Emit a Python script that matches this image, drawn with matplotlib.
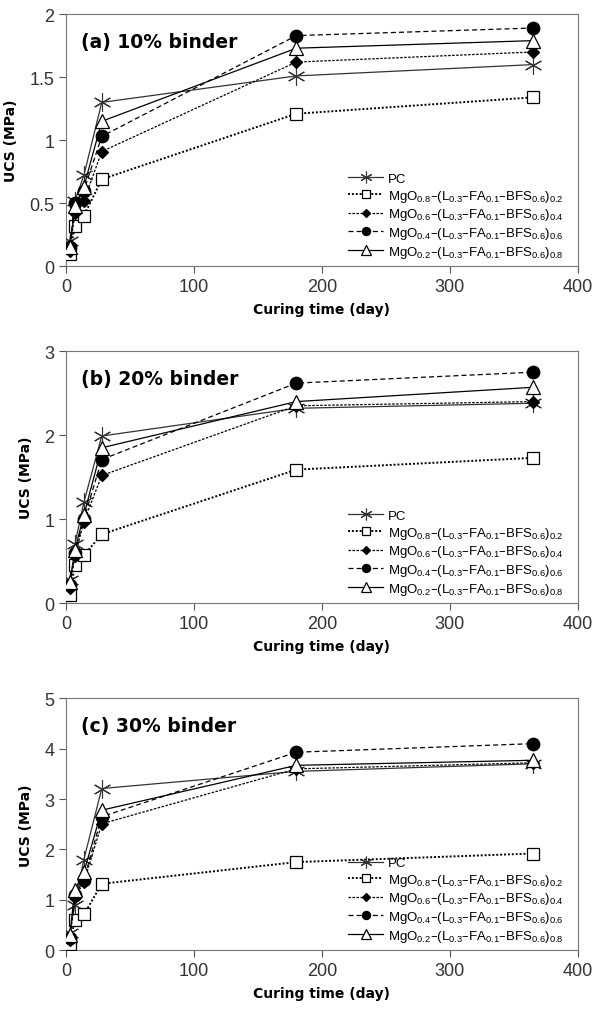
import matplotlib.pyplot as plt
import numpy as np

plt.rcParams['font.family'] = ['Liberation Sans', 'DejaVu Sans']
plt.rcParams['mathtext.default'] = 'regular'

days = [3, 7, 14, 28, 180, 365]

labels = [
    "PC",
    "MgO$_{0.8}$–(L$_{0.3}$–FA$_{0.1}$–BFS$_{0.6}$)$_{0.2}$",
    "MgO$_{0.6}$–(L$_{0.3}$–FA$_{0.1}$–BFS$_{0.6}$)$_{0.4}$",
    "MgO$_{0.4}$–(L$_{0.3}$–FA$_{0.1}$–BFS$_{0.6}$)$_{0.6}$",
    "MgO$_{0.2}$–(L$_{0.3}$–FA$_{0.1}$–BFS$_{0.6}$)$_{0.8}$",
]

# (a) 10% binder
ucs_10 = [
    [0.20, 0.52, 0.72, 1.30, 1.51, 1.60],
    [0.10, 0.32, 0.40, 0.69, 1.21, 1.34],
    [0.12, 0.42, 0.52, 0.91, 1.62, 1.70],
    [0.15, 0.50, 0.60, 1.03, 1.83, 1.89],
    [0.15, 0.48, 0.63, 1.15, 1.73, 1.79],
]
# (b) 20% binder
ucs_20 = [
    [0.27, 0.70, 1.20, 1.99, 2.32, 2.38],
    [0.10, 0.45, 0.57, 0.82, 1.59, 1.73],
    [0.18, 0.56, 0.97, 1.52, 2.35, 2.40],
    [0.22, 0.60, 1.00, 1.71, 2.62, 2.75],
    [0.25, 0.63, 1.05, 1.85, 2.40, 2.57],
]
# (c) 30% binder
ucs_30 = [
    [0.35, 0.90, 1.80, 3.21, 3.55, 3.70],
    [0.12, 0.60, 0.71, 1.32, 1.75, 1.92],
    [0.20, 1.05, 1.35, 2.51, 3.60, 3.72],
    [0.25, 1.10, 1.40, 2.65, 3.93, 4.10],
    [0.30, 1.20, 1.55, 2.78, 3.67, 3.77],
]

titles = ["(a) 10% binder", "(b) 20% binder", "(c) 30% binder"]
ymax = [2, 3, 5]
ysteps = [0.5, 1, 1]

styles = [
    dict(marker=(6, 2, 0), ls="-", mfc="none", ms=13, lw=0.9),
    dict(marker="s", ls=(0, (1, 1)), mfc="white", ms=9, lw=1.4),
    dict(marker="D", ls=(0, (2, 1.2)), mfc="black", ms=6, lw=0.9),
    dict(marker="o", ls=(0, (4, 2.5)), mfc="black", ms=9, lw=0.9),
    dict(marker="^", ls="-", mfc="white", ms=10, lw=0.9),
]

bold = dict(fontweight="bold", family=["DejaVu Sans"])

fig = plt.figure(figsize=(5.94, 10.12), dpi=100)
bottoms = [0.736, 0.403, 0.060]

for i, data in enumerate([ucs_10, ucs_20, ucs_30]):
    ax = fig.add_axes([0.111, bottoms[i], 0.862, 0.249])
    for k, vals in enumerate(data):
        st = styles[k]
        col = "#333333" if k == 0 else "black"
        ax.plot(days, vals, color=col, ls=st["ls"], lw=st["lw"],
                marker=st["marker"], ms=st["ms"], mfc=st["mfc"], mec=col,
                mew=0.8 if k == 0 else 0.9, label=labels[k], zorder=3)
    ax.set_xlim(0, 400)
    ax.set_ylim(0, ymax[i])
    yt = np.arange(0, ymax[i] + 0.01, ysteps[i])
    ax.set_xticks([0, 100, 200, 300, 400])
    ax.set_yticks(yt)
    ax.set_yticklabels([f"{v:g}" for v in yt])
    for s in ["top", "right", "left", "bottom"]:
        ax.spines[s].set_color("#777777")
    ax.tick_params(direction="out", length=5, color="#555555", labelsize=13,
                   labelcolor="#333333", top=False, right=False)
    ax.set_xlabel("Curing time (day)", fontsize=10, labelpad=5, **bold)
    ax.set_ylabel("UCS (MPa)", fontsize=10, labelpad=8, **bold)
    ax.text(0.03, 0.93, titles[i], transform=ax.transAxes, fontsize=13.5,
            va="top", **bold)
    ax.legend(loc="lower right", frameon=False, fontsize=9.5,
              handlelength=2.6, borderaxespad=0.1, labelspacing=0.2,
              handletextpad=0.4, markerscale=0.65,
              bbox_to_anchor=(0.985, 0.0))

fig.savefig("out.png", dpi=100)
